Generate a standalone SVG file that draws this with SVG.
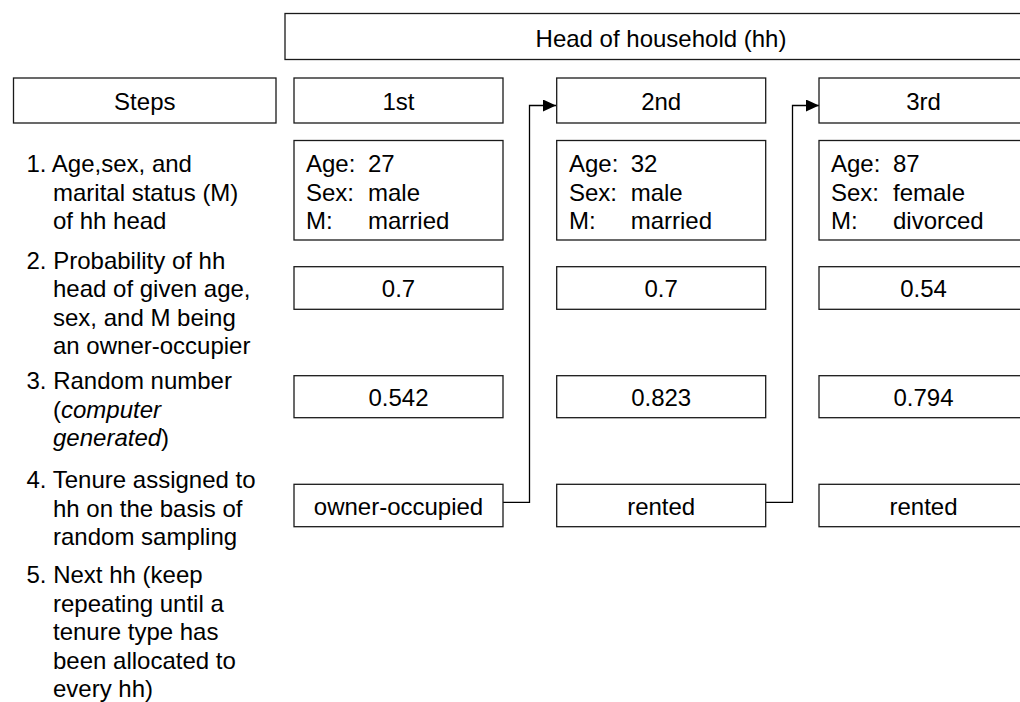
<svg xmlns="http://www.w3.org/2000/svg" width="1020" height="702" viewBox="0 0 1020 702">
<style>
  .box{fill:#fff;stroke:#1a1a1a;stroke-width:1.3}
  text{font-family:"Liberation Sans",Arial,sans-serif;font-size:24px;fill:#000}
  .c{text-anchor:middle}
  .i{font-style:italic}
  .conn{fill:none;stroke:#000;stroke-width:1.3}
</style>
<defs>
  <marker id="arr" markerWidth="13" markerHeight="12" refX="13" refY="6" orient="auto" markerUnits="userSpaceOnUse">
    <path d="M0,0 L13,6 L0,12 Z" fill="#000"/>
  </marker>
</defs>
<rect width="1020" height="702" fill="#fff"/>

<g id="connectors">
  <path class="conn" d="M503,502.3 H529.5 V105.5 H556" marker-end="url(#arr)"/>
  <path class="conn" d="M765.7,502.3 H792.5 V105.5 H819" marker-end="url(#arr)"/>
</g>

<g id="head">
  <rect class="box" x="285" y="13.5" width="752" height="46"/>
  <text class="c" x="661" y="47">Head of household (hh)</text>
</g>

<g id="steps">
  <rect class="box" x="13.5" y="78" width="262.5" height="45"/>
  <text class="c" x="144.8" y="110">Steps</text>
</g>

<g id="col1-header">
  <rect class="box" x="294" y="78" width="209" height="45"/>
  <text class="c" x="398.5" y="110">1st</text>
</g>
<g id="col2-header">
  <rect class="box" x="556.7" y="78" width="209" height="45"/>
  <text class="c" x="661.2" y="110">2nd</text>
</g>
<g id="col3-header">
  <rect class="box" x="819" y="78" width="209" height="45"/>
  <text class="c" x="923.5" y="110">3rd</text>
</g>

<g id="col1-info">
  <rect class="box" x="294" y="140.5" width="209" height="99.5"/>
  <text x="306" y="172">Age:</text><text x="368" y="172">27</text>
  <text x="306" y="200.5">Sex:</text><text x="368" y="200.5">male</text>
  <text x="306" y="229">M:</text><text x="368" y="229">married</text>
</g>
<g id="col2-info">
  <rect class="box" x="556.7" y="140.5" width="209" height="99.5"/>
  <text x="569" y="172">Age:</text><text x="630.7" y="172">32</text>
  <text x="569" y="200.5">Sex:</text><text x="630.7" y="200.5">male</text>
  <text x="569" y="229">M:</text><text x="630.7" y="229">married</text>
</g>
<g id="col3-info">
  <rect class="box" x="819" y="140.5" width="209" height="99.5"/>
  <text x="831" y="172">Age:</text><text x="893" y="172">87</text>
  <text x="831" y="200.5">Sex:</text><text x="893" y="200.5">female</text>
  <text x="831" y="229">M:</text><text x="893" y="229">divorced</text>
</g>

<g id="col1-prob">
  <rect class="box" x="294" y="266.7" width="209" height="42.6"/>
  <text class="c" x="398.5" y="297">0.7</text>
</g>
<g id="col2-prob">
  <rect class="box" x="556.7" y="266.7" width="209" height="42.6"/>
  <text class="c" x="661.2" y="297">0.7</text>
</g>
<g id="col3-prob">
  <rect class="box" x="819" y="266.7" width="209" height="42.6"/>
  <text class="c" x="923.5" y="297">0.54</text>
</g>

<g id="col1-rand">
  <rect class="box" x="294" y="375.7" width="209" height="42"/>
  <text class="c" x="398.5" y="406">0.542</text>
</g>
<g id="col2-rand">
  <rect class="box" x="556.7" y="375.7" width="209" height="42"/>
  <text class="c" x="661.2" y="406">0.823</text>
</g>
<g id="col3-rand">
  <rect class="box" x="819" y="375.7" width="209" height="42"/>
  <text class="c" x="923.5" y="406">0.794</text>
</g>

<g id="col1-tenure">
  <rect class="box" x="294" y="484.3" width="209" height="42.4"/>
  <text class="c" x="398.5" y="514.5">owner-occupied</text>
</g>
<g id="col2-tenure">
  <rect class="box" x="556.7" y="484.3" width="209" height="42.4"/>
  <text class="c" x="661.2" y="514.5">rented</text>
</g>
<g id="col3-tenure">
  <rect class="box" x="819" y="484.3" width="209" height="42.4"/>
  <text class="c" x="923.5" y="514.5">rented</text>
</g>

<g id="step-labels">
  <text x="26.5" y="172">1. Age,sex, and</text>
  <text x="53" y="200.5">marital status (M)</text>
  <text x="53" y="229">of hh head</text>

  <text x="26.5" y="268.5">2. Probability of hh</text>
  <text x="53" y="297">head of given age,</text>
  <text x="53" y="325.5">sex, and M being</text>
  <text x="53" y="354">an owner-occupier</text>

  <text x="26.5" y="389">3. Random number</text>
  <text x="53" y="417.5">(<tspan class="i">computer</tspan></text>
  <text x="53" y="446"><tspan class="i">generated</tspan>)</text>

  <text x="26.5" y="488">4. Tenure assigned to</text>
  <text x="53" y="516.5">hh on the basis of</text>
  <text x="53" y="545">random sampling</text>

  <text x="26.5" y="583">5. Next hh (keep</text>
  <text x="53" y="611.5">repeating until a</text>
  <text x="53" y="640">tenure type has</text>
  <text x="53" y="668.5">been allocated to</text>
  <text x="53" y="697">every hh)</text>
</g>
</svg>
